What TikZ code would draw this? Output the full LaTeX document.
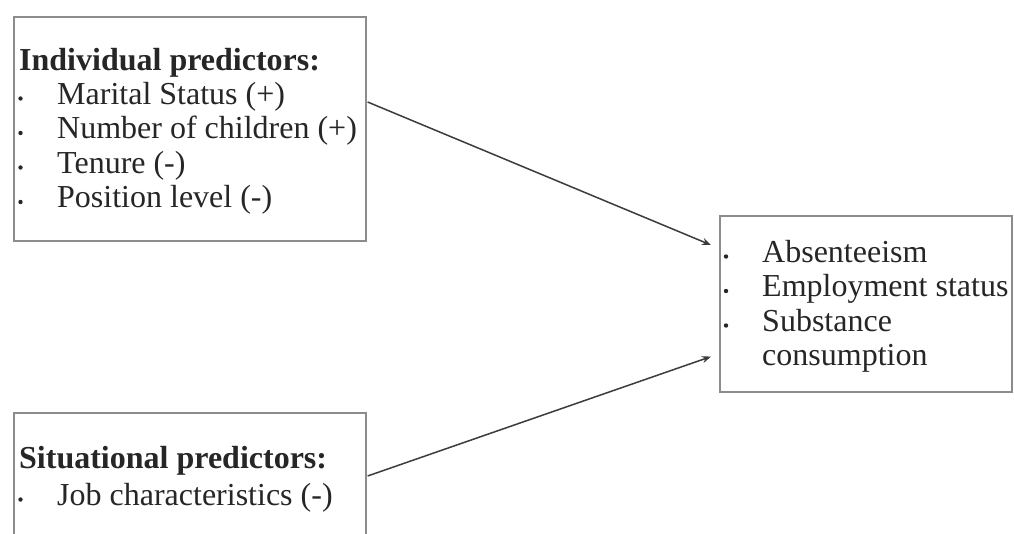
\documentclass[tikz,border=0pt]{standalone}
\usepackage{fontspec}
\setmainfont{Liberation Serif}
\usetikzlibrary{arrows.meta,calc}
\definecolor{boxline}{HTML}{8C8C8C}
\definecolor{arrowline}{HTML}{3C3C3C}
\definecolor{txt}{HTML}{262626}
\tikzset{
  box/.style={draw=boxline, line width=1.6pt, fill=white, inner sep=0pt, anchor=north west},
  txtline/.style={anchor=base west, inner sep=0pt, text=txt, font=\fontsize{32}{34}\selectfont},
  headline/.style={txtline, font=\fontsize{32}{34}\selectfont\bfseries},
  bulletdot/.style={fill=txt},
  link/.style={draw=arrowline, line width=1.5pt, -{Stealth[length=9pt,width=7pt]}}
}
\begin{document}
\begin{tikzpicture}[x=1pt,y=-1pt]
\path[use as bounding box, fill=white] (0,0) rectangle (1014,533);
\clip (0,0) rectangle (1014,533);
% boxes
\node[box, minimum width=352pt, minimum height=224pt] (tl) at (13,16) {};
\node[box, minimum width=292pt, minimum height=176pt] (rt) at (719,215) {};
\node[box, minimum width=352pt, minimum height=140pt] (bl) at (13,412) {};
% top-left text
\node[headline] (h1) at (19,70) {Individual predictors:};
\node[txtline] (i1) at (57,104) {Marital Status (+)};
\node[txtline] (i2) at (57,138.5) {Number of children (+)};
\node[txtline] (i3) at (57,173) {Tenure (-)};
\node[txtline] (i4) at (57,207.5) {Position level (-)};
\foreach \y in {104,138.5,173,207.5} \fill[bulletdot] (20.5,\y-5.5) circle (2.2);
% right text
\node[txtline] (o1) at (762,262) {Absenteeism};
\node[txtline] (o2) at (762,296.5) {Employment status};
\node[txtline] (o3) at (762,331) {Substance};
\node[txtline] (o4) at (762,365.5) {consumption};
\foreach \y in {262,296.5,331} \fill[bulletdot] (726,\y-5.5) circle (2.2);
% bottom text
\node[headline] (h2) at (19,468) {Situational predictors:};
\node[txtline] (s1) at (57,505) {Job characteristics (-)};
\fill[bulletdot] (20.5,499.5) circle (2.2);
% connectors
\draw[link] ($(tl.north east)+(1,86)$) -- ($(rt.north west)+(-8,30)$);
\draw[link] ($(bl.north east)+(1,64)$) -- ($(rt.south west)+(-8,-36)$);
\end{tikzpicture}
\end{document}
